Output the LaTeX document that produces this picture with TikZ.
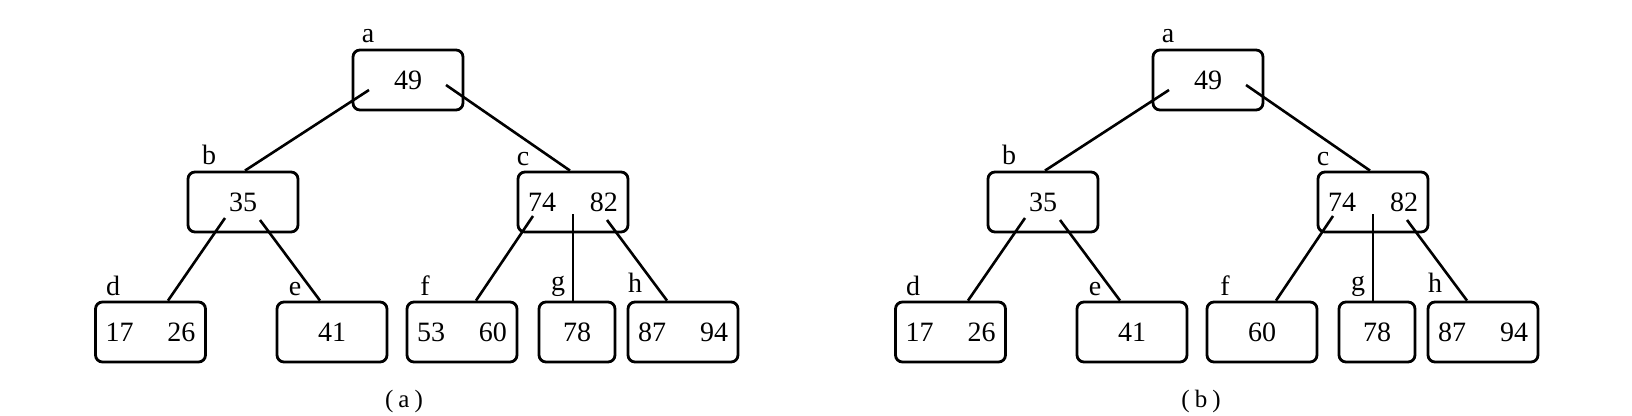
\documentclass[tikz,border=0pt]{standalone}
\usepackage{fontspec}
\setmainfont{Liberation Serif}
\usetikzlibrary{calc}
\newcommand\twokeys[2]{#1\hspace{34pt}#2}
\newcommand\drawtree[3]{%
  \node[keybox] (#1a) at ({#2+408},80) {49};
  \node[keybox] (#1b) at ({#2+243},202) {35};
  \node[keybox] (#1c) at ({#2+573},202) {\twokeys{74}{82}};
  \node[keybox] (#1d) at ({#2+150.5},332) {\twokeys{17}{26}};
  \node[keybox] (#1e) at ({#2+332},332) {41};
  \node[keybox] (#1f) at ({#2+462},332) {#3};
  \node[smallbox] (#1g) at ({#2+577},332) {78};
  \node[keybox] (#1h) at ({#2+683},332) {\twokeys{87}{94}};
  \node[lbl] (#1la) at ({#2+368},42) {a};
  \node[lbl] (#1lb) at ({#2+209},164) {b};
  \node[lbl] (#1lc) at ({#2+523},165) {c};
  \node[lbl] (#1ld) at ({#2+113},295) {d};
  \node[lbl] (#1le) at ({#2+295},295) {e};
  \node[lbl] (#1lf) at ({#2+425},295) {f};
  \node[lbl] (#1lg) at ({#2+558},290) {g};
  \node[lbl] (#1lh) at ({#2+635},292) {h};
  \draw[conn] ($(#1a.center)+(-39,10)$) -- ($(#1b.north)+(2,0)$);
  \draw[conn] ($(#1a.center)+(38,5)$) -- ($(#1c.north)+(-3,0)$);
  \draw[conn] ($(#1b.center)+(-18,16)$) -- ($(#1d.north)+(17.5,0)$);
  \draw[conn] ($(#1b.center)+(17,18)$) -- ($(#1e.north)+(-12,0)$);
  \draw[conn] ($(#1c.center)+(-40,14)$) -- ($(#1f.north)+(14,0)$);
  \draw[conn] ($(#1c.center)+(0,12)$) -- ($(#1g.north)+(-4,0)$);
  \draw[conn] ($(#1c.center)+(34,18)$) -- ($(#1h.north)+(-16,0)$);
}
\begin{document}
\begin{tikzpicture}[x={(1pt,0)},y={(0,-1pt)},
  keybox/.style={draw, line width=2.8pt, rounded corners=7pt, minimum width=110pt,
    minimum height=60pt, inner sep=0pt, font=\fontsize{28}{34}\selectfont},
  smallbox/.style={keybox, minimum width=76pt},
  lbl/.style={anchor=base, inner sep=0pt, font=\fontsize{28}{34}\selectfont},
  captxt/.style={anchor=base, inner sep=0pt, font=\fontsize{25}{30}\selectfont},
  conn/.style={line width=2.6pt}]
  \useasboundingbox (0,0) rectangle (1632,415);
  \drawtree{p}{0}{\twokeys{53}{60}}
  \drawtree{q}{800}{60}
  \node[captxt] (capa) at (404,407) {(\hspace{5pt}a\hspace{5pt})};
  \node[captxt] (capb) at (1201,407) {(\hspace{5pt}b\hspace{5pt})};
\end{tikzpicture}
\end{document}
